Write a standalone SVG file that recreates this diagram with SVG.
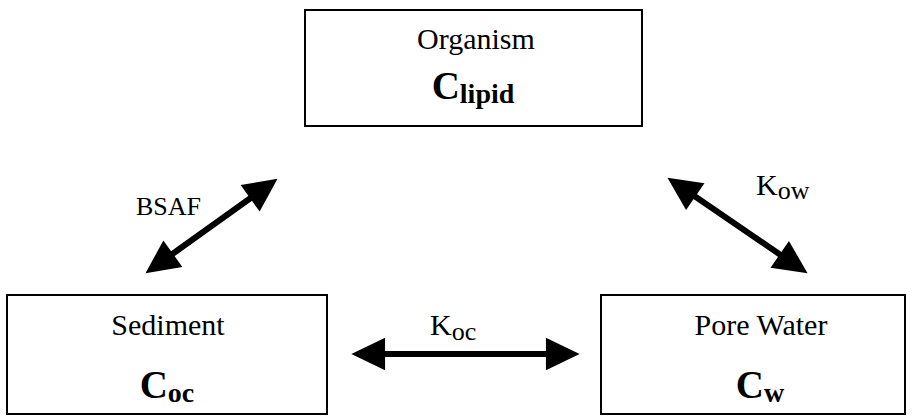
<svg xmlns="http://www.w3.org/2000/svg" width="912" height="416" viewBox="0 0 912 416">
<style>
.box{fill:#fff;stroke:#000;stroke-width:2}
.lbl{font-family:"Liberation Serif","Times New Roman",serif;fill:#000}
.name{font-size:30px}
.conc{font-size:39px;font-weight:bold}
.sub{font-size:28px}
.elbl{font-size:30px}
.bsaf{font-size:26px}
.esub{font-size:26px}
.arr{stroke:#000;stroke-width:6;fill:none;marker-start:url(#head);marker-end:url(#head)}
</style>
<defs>
<marker id="head" markerUnits="userSpaceOnUse" markerWidth="40" markerHeight="40" viewBox="-2 -17 38 34" refX="1" refY="0" orient="auto-start-reverse">
<path d="M0,-15.5 L32,0 L0,15.5 z" fill="#000"/>
</marker>
</defs>
<rect width="912" height="416" fill="#fff"/>
<g id="organism">
<rect class="box" x="305" y="10" width="337" height="116"/>
<text class="lbl name" x="476" y="49" text-anchor="middle">Organism</text>
<text class="lbl conc" x="473" y="99" text-anchor="middle">C<tspan class="sub" dy="4">lipid</tspan></text>
</g>
<g id="sediment">
<rect class="box" x="7" y="295" width="320" height="119"/>
<text class="lbl name" x="168" y="335" text-anchor="middle">Sediment</text>
<text class="lbl conc" x="167" y="398" text-anchor="middle">C<tspan class="sub" dy="4">oc</tspan></text>
</g>
<g id="porewater">
<rect class="box" x="601" y="295" width="304" height="119"/>
<text class="lbl name" x="761" y="335" text-anchor="middle">Pore Water</text>
<text class="lbl conc" x="760" y="398" text-anchor="middle">C<tspan class="sub" dy="4">w</tspan></text>
</g>
<g id="connectors">
<line class="arr" x1="172" y1="254.3" x2="251" y2="197.7"/>
<line class="arr" x1="694.4" y1="196.05" x2="780.6" y2="254.95"/>
<line class="arr" x1="384" y1="354" x2="547" y2="354"/>
<text class="lbl bsaf" x="136" y="215">BSAF</text>
<text class="lbl elbl" x="756" y="195">K<tspan class="esub" dy="4">ow</tspan></text>
<text class="lbl elbl" x="430" y="335">K<tspan class="esub" dy="5">oc</tspan></text>
</g>
</svg>
